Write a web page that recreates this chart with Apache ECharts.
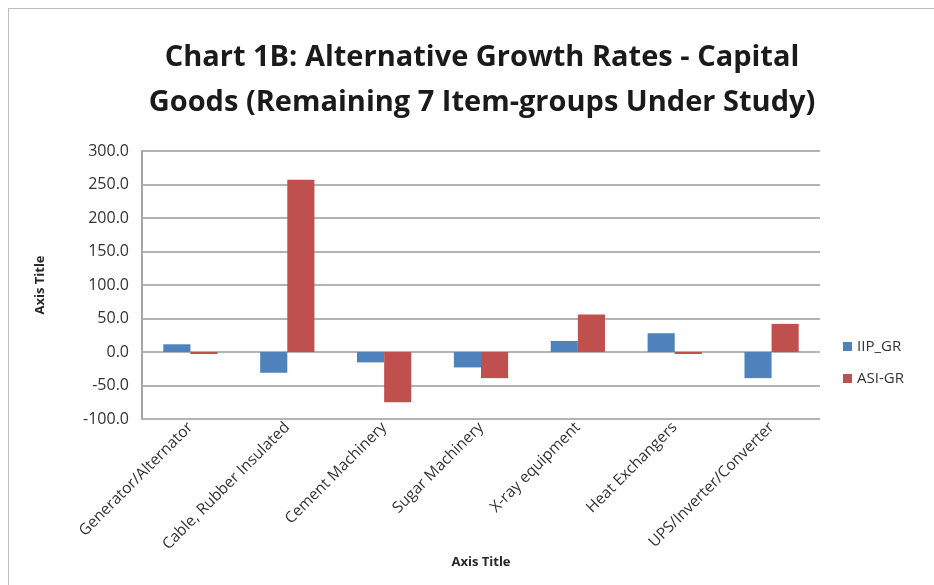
<!DOCTYPE html>
<html>
<head>
<meta charset="utf-8">
<script src="https://cdn.jsdelivr.net/npm/echarts@6/dist/echarts.min.js"></script>
<style>
    html, body { margin: 0; padding: 0; background: #fff; }
    #frame { position: absolute; left: 8px; top: 8px; width: 940px; height: 600px; border: 1px solid #bdbdbd; }
    #chart { position: absolute; left: 0; top: 0; width: 934px; height: 585px; }
</style>
</head>
<body>
<div id="frame"></div>
<div id="chart"></div>
<script>
// 类别与数据
let categories = ['Generator/Alternator', 'Cable, Rubber Insulated', 'Cement Machinery', 'Sugar Machinery',
    'X-ray equipment', 'Heat Exchangers', 'UPS/Inverter/Converter'];
let iipGr = [11.5, -31, -15.5, -23, 16.5, 28, -39];
let asiGr = [-3, 257, -75, -39, 56, -3, 42];

let myChart = echarts.init(document.getElementById('chart'));
let textColor = '#333';
let option = {
    title: {
        text: 'Chart 1B: Alternative Growth Rates - Capital\nGoods (Remaining 7 Item-groups Under Study)',
        left: 477,
        textAlign: 'center',
        top: 30,
        textStyle: {
            fontFamily: 'Open Sans',
            fontWeight: 'bold',
            fontSize: 29,
            lineHeight: 45,
            color: '#1a1a1a'
        }
    },
    color: ['#4f81bd', '#c0504d'],
    legend: {
        orient: 'vertical',
        left: 838,
        top: 334,
        itemWidth: 9,
        itemHeight: 9,
        itemGap: 17,
        icon: 'rect',
        textStyle: {
            fontFamily: 'Open Sans',
            fontSize: 15,
            color: textColor
        },
        data: ['IIP_GR', 'ASI-GR']
    },
    grid: {
        left: 142,
        right: 114,
        top: 151,
        bottom: 166
    },
    xAxis: {
        type: 'category',
        data: categories,
        name: 'Axis Title',
        nameLocation: 'middle',
        nameGap: 133,
        nameTextStyle: {
            fontFamily: 'Open Sans',
            fontWeight: 'bold',
            fontSize: 13,
            color: '#262626'
        },
        axisLine: { show: false },
        axisTick: { show: false },
        axisLabel: {
            rotate: 45,
            interval: 0,
            margin: 6,
            fontFamily: 'Open Sans',
            fontSize: 15.5,
            color: textColor
        }
    },
    yAxis: {
        type: 'value',
        min: -100,
        max: 300,
        interval: 50,
        name: 'Axis Title',
        nameLocation: 'middle',
        nameRotate: 90,
        nameGap: 95,
        nameTextStyle: {
            fontFamily: 'Open Sans',
            fontWeight: 'bold',
            fontSize: 13,
            color: '#262626'
        },
        axisLine: { show: true, lineStyle: { color: '#a6a6a6', width: 2 } },
        axisTick: { show: false },
        axisLabel: {
            margin: 13,
            fontFamily: 'Open Sans',
            fontSize: 16,
            color: textColor,
            formatter: v => v.toFixed(1)
        },
        splitLine: { lineStyle: { color: '#b3b3b3', width: 2 } }
    },
    series: [{
        name: 'IIP_GR',
        type: 'bar',
        data: iipGr,
        barGap: '0%',
        barCategoryGap: '44%'
    }, {
        name: 'ASI-GR',
        type: 'bar',
        data: asiGr
    }]
};
myChart.setOption(option);
</script>
</body>
</html>
